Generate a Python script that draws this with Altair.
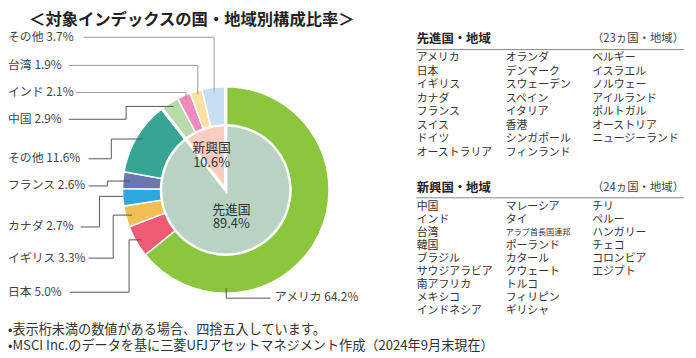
import math
import altair as alt
import pandas as pd

# ---------------- data ----------------
title_text = "＜対象インデックスの国・地域別構成比率＞"

countries = ["アメリカ", "日本", "イギリス", "カナダ", "フランス", "その他", "中国", "インド", "台湾", "その他"]
weights = [64.2, 5.0, 3.3, 2.7, 2.6, 11.6, 2.9, 2.1, 1.9, 3.7]
country_group = ["先進国"] * 6 + ["新興国"] * 4
country_colors = ["#8CC63F", "#EF5B73", "#F3BF55", "#2EA7DF", "#6A77B0",
                  "#36A593", "#B7DCA9", "#F08BBB", "#FDE1A3", "#C8DEF3"]

groups = ["先進国", "新興国"]
group_weights = [89.4, 10.6]
group_colors = ["#B9D3C3", "#FBCDBE"]

developed_title = "先進国・地域"
developed_col1 = ["アメリカ", "日本", "イギリス", "カナダ", "フランス", "スイス", "ドイツ", "オーストラリア"]
developed_col2 = ["オランダ", "デンマーク", "スウェーデン", "スペイン", "イタリア", "香港", "シンガポール", "フィンランド"]
developed_col3 = ["ベルギー", "イスラエル", "ノルウェー", "アイルランド", "ポルトガル", "オーストリア", "ニュージーランド"]

emerging_title = "新興国・地域"
emerging_col1 = ["中国", "インド", "台湾", "韓国", "ブラジル", "サウジアラビア", "南アフリカ", "メキシコ", "インドネシア"]
emerging_col2 = ["マレーシア", "タイ", "アラブ首長国連邦", "ポーランド", "カタール", "クウェート", "トルコ", "フィリピン", "ギリシャ"]
emerging_col3 = ["チリ", "ペルー", "ハンガリー", "チェコ", "コロンビア", "エジプト"]

notes = ["•表示桁未満の数値がある場合、四捨五入しています。",
         "•MSCI Inc.のデータを基に三菱UFJアセットマネジメント作成（2024年9月末現在）"]

# ---------------- layout (page pixels -> view pixels) ----------------
FONT = "Noto Sans CJK JP"
OFF = 8


def V(p):
    return max(p - OFF, 0)


CX, CY = V(228.3), V(190)
R_OUT, R_RING_IN, R_PIE = 104.5, 66, 65

# label positions (page coords) per country, same order as countries
label_x = [278, 4, 4, 4, 4, 4, 4, 4, 4, 4]
label_y = [298, 293, 258.5, 227, 185.5, 158, 118, 91, 63.5, 35]
# leader polylines (page coords) per country
leaders = [
    [(228.3, 289), (228.3, 299), (273, 299)],
    [(70, 293), (130, 293), (130, 240), (143, 240)],
    [(89, 258.5), (114, 258.5), (114, 215), (133, 215)],
    [(81, 227), (100, 227), (100, 196), (124, 196)],
    [(89, 185.5), (108, 185.5), (108, 180.5), (130, 180.5)],
    [(89, 158), (112, 158), (112, 138), (143, 138)],
    [(69, 118), (127, 118), (127, 105), (175, 105)],
    [(76, 91), (187.5, 91), (187.5, 98)],
    [(69, 63.5), (199.5, 63.5), (199.5, 93)],
    [(84, 35), (216, 35), (216, 90)],
]
leader_colors = ["#555"] * 7 + ["#999"] * 3

# ---------------- tables ----------------
outer = pd.DataFrame({"name": countries, "w": weights, "grp": country_group, "col": country_colors})
outer["t1"] = outer["w"].cumsum()
outer["t0"] = outer["t1"] - outer["w"]

inner = pd.DataFrame({"name": groups, "w": group_weights, "col": group_colors})
inner["t1"] = inner["w"].cumsum()
inner["t0"] = inner["t1"] - inner["w"]

theta_scale = alt.Scale(domain=[0, 100], range=[0, 2 * math.pi])


def arc_layer(df, **kw):
    return alt.Chart(df).mark_arc(**kw).encode(
        theta=alt.Theta("t0:Q", scale=theta_scale),
        theta2=alt.Theta2("t1:Q"),
        color=alt.Color("col:N", scale=None),
        x=alt.value(CX), y=alt.value(CY))


outer_layer = arc_layer(outer, radius=R_OUT, radius2=R_RING_IN, stroke="white", strokeWidth=1.5)
inner_layer = arc_layer(inner, radius=R_PIE, stroke="white", strokeWidth=1.5)
outline_layer = alt.Chart(inner).mark_arc(radius=R_OUT + 2, fillOpacity=0, stroke="white", strokeWidth=3).encode(
    theta=alt.Theta("t0:Q", scale=theta_scale),
    theta2=alt.Theta2("t1:Q"),
    x=alt.value(CX), y=alt.value(CY))


def text_layer(df, **kw):
    enc = dict(x=alt.X("x:Q", scale=None, axis=None),
               y=alt.Y("y:Q", scale=None, axis=None),
               text=alt.Text("t:N"))
    if "fs" in df.columns:
        enc["size"] = alt.Size("fs:Q", scale=None, legend=None)
    return alt.Chart(df).mark_text(font=FONT, lineBreak="\n", **kw).encode(**enc)


# country labels
lab = pd.DataFrame({
    "t": [f"{n} {w:.1f}%" for n, w in zip(countries, weights)],
    "x": [V(x) for x in label_x],
    "y": [V(y) for y in label_y],
})
labels_layer = text_layer(lab, align="left", baseline="middle", fontSize=12, color="#444")

# leader lines
rows = []
for i, pts in enumerate(leaders):
    for j, (px, py) in enumerate(pts):
        rows.append({"id": i, "seq": j, "x": V(px) + 0.5, "y": V(py) + 0.5, "c": leader_colors[i]})
lines_df = pd.DataFrame(rows)
lines_layer = alt.Chart(lines_df).mark_line(strokeWidth=1, strokeCap="butt").encode(
    x=alt.X("x:Q", scale=None, axis=None),
    y=alt.Y("y:Q", scale=None, axis=None),
    detail="id:N", order="seq:Q",
    color=alt.Color("c:N", scale=None))

# inner pie labels (two lines each, one text mark; y = first line)
inner_pos = {"新興国": (214, 148), "先進国": (234, 210)}
in_rows = []
for n, w in zip(groups, group_weights):
    x, y = inner_pos[n]
    in_rows.append({"t": f"{n}\n{w}%", "x": V(x), "y": V(y)})
inner_text_layer = text_layer(pd.DataFrame(in_rows), align="center", baseline="middle",
                              fontSize=13, lineHeight=15, color="#333")

# title
title_layer = text_layer(pd.DataFrame({"t": [title_text], "x": [V(194)], "y": [2]}),
                         align="center", baseline="top", fontSize=16.5, fontWeight="bold", color="#222")


# right-hand lists
def list_block(title, cols, head_y, line_y, row0, step):
    heads = pd.DataFrame({"t": [title], "x": [V(421.5)], "y": [V(head_y)]})
    count = sum(len(c) for c in cols)
    cnt = pd.DataFrame({"t": [f"（{count}ヵ国・地域）"], "x": [V(692)], "y": [V(head_y)]})
    rule = pd.DataFrame({"x": [V(421)], "x2": [V(692)], "y": [V(line_y) + 0.5]})
    col_x = [421.5, 511.5, 599]
    blocks = []
    for ci, col in enumerate(cols):
        # split each column into runs that share one font size
        runs = []
        for ri, name in enumerate(col):
            fs = 8.2 if len(name) >= 8 and ci == 1 else 11
            if runs and runs[-1]["fs"] == fs:
                runs[-1]["names"].append(name)
            else:
                runs.append({"fs": fs, "start": ri, "names": [name]})
        for r in runs:
            yc = row0 + r["start"] * step
            blocks.append({"t": "\n".join(r["names"]), "x": V(col_x[ci]), "y": V(yc), "fs": r["fs"]})
    return [
        text_layer(heads, align="left", baseline="middle", fontSize=12.5, fontWeight="bold", color="#222"),
        text_layer(cnt, align="right", baseline="middle", fontSize=11.5, color="#444"),
        alt.Chart(rule).mark_rule(color="#888", strokeWidth=1).encode(
            x=alt.X("x:Q", scale=None, axis=None), x2="x2:Q",
            y=alt.Y("y:Q", scale=None, axis=None)),
        text_layer(pd.DataFrame(blocks), align="left", baseline="middle", lineHeight=step, color="#333"),
    ]


dev_layers = list_block(developed_title, [developed_col1, developed_col2, developed_col3], 37.5, 47.5, 56.7, 13.65)
emg_layers = list_block(emerging_title, [emerging_col1, emerging_col2, emerging_col3], 187.7, 197.5, 207.7, 13.1)

notes_df = pd.DataFrame({"t": ["\n".join(notes)], "x": [V(4)], "y": [V(331.7)]})
notes_layer = text_layer(notes_df, align="left", baseline="middle", fontSize=13.3, lineHeight=16.6, color="#333")

chart = alt.layer(
    outer_layer, inner_layer, outline_layer, lines_layer, labels_layer, inner_text_layer,
    title_layer, *dev_layers, *emg_layers, notes_layer,
).properties(width=688, height=350, autosize="none", padding=0, background="white"
).configure_view(stroke=None)

chart.save("out.html", embed_options={"renderer": "svg", "actions": False})
